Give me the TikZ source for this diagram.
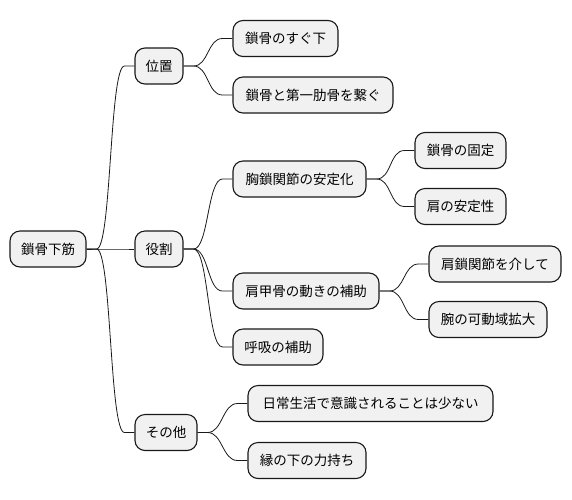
\documentclass[tikz,border=0pt]{standalone}
\usepackage{fontspec}
\setmainfont{Noto Sans CJK JP}
\usetikzlibrary{calc}
\tikzset{
  mm/.style={draw=black!90, fill=gray!11, line width=1.1pt, rounded corners=10pt,
    minimum height=36pt, inner sep=0pt, font=\fontsize{13.5pt}{16pt}\selectfont, anchor=center},
  link/.style={draw=black!90, line width=0.8pt}
}
\newcommand{\mmconn}[2]{%
  \draw[link] (#1.east) -- ++(10pt,0) .. controls +(15pt,0) and +(-15pt,0) .. ($(#2.west)+(-10pt,0)$) -- (#2.west);}
\begin{document}
\begin{tikzpicture}[x=1pt,y=1pt]
\useasboundingbox (0,0) rectangle (572,-499);
\node[mm, minimum width=76] (root) at (48,-249) {鎖骨下筋};
\node[mm, minimum width=48] (pos) at (159,-66) {位置};
\node[mm, minimum width=48] (role) at (159,-249) {役割};
\node[mm, minimum width=62] (other) at (166,-432.5) {その他};
\node[mm, minimum width=105] (p1) at (285.5,-38.5) {鎖骨のすぐ下};
\node[mm, minimum width=160] (p2) at (313,-95) {鎖骨と第一肋骨を繋ぐ};
\node[mm, minimum width=133] (r1) at (299.5,-179) {胸鎖関節の安定化};
\node[mm, minimum width=91] (r11) at (460.5,-150.5) {鎖骨の固定};
\node[mm, minimum width=91] (r12) at (460.5,-206.5) {肩の安定性};
\node[mm, minimum width=146] (r2) at (306,-291) {肩甲骨の動きの補助};
\node[mm, minimum width=132] (r21) at (495,-264) {肩鎖関節を介して};
\node[mm, minimum width=118] (r22) at (488,-319.5) {腕の可動域拡大};
\node[mm, minimum width=90] (r3) at (278,-347) {呼吸の補助};
\node[mm, minimum width=245] (o1) at (370.5,-403.5) {日常生活で意識されることは少ない};
\node[mm, minimum width=118] (o2) at (307,-460.5) {縁の下の力持ち};
\mmconn{root}{pos}
\mmconn{root}{role}
\mmconn{root}{other}
\mmconn{pos}{p1}
\mmconn{pos}{p2}
\mmconn{role}{r1}
\mmconn{role}{r2}
\mmconn{role}{r3}
\mmconn{r1}{r11}
\mmconn{r1}{r12}
\mmconn{r2}{r21}
\mmconn{r2}{r22}
\mmconn{other}{o1}
\mmconn{other}{o2}
\end{tikzpicture}
\end{document}
